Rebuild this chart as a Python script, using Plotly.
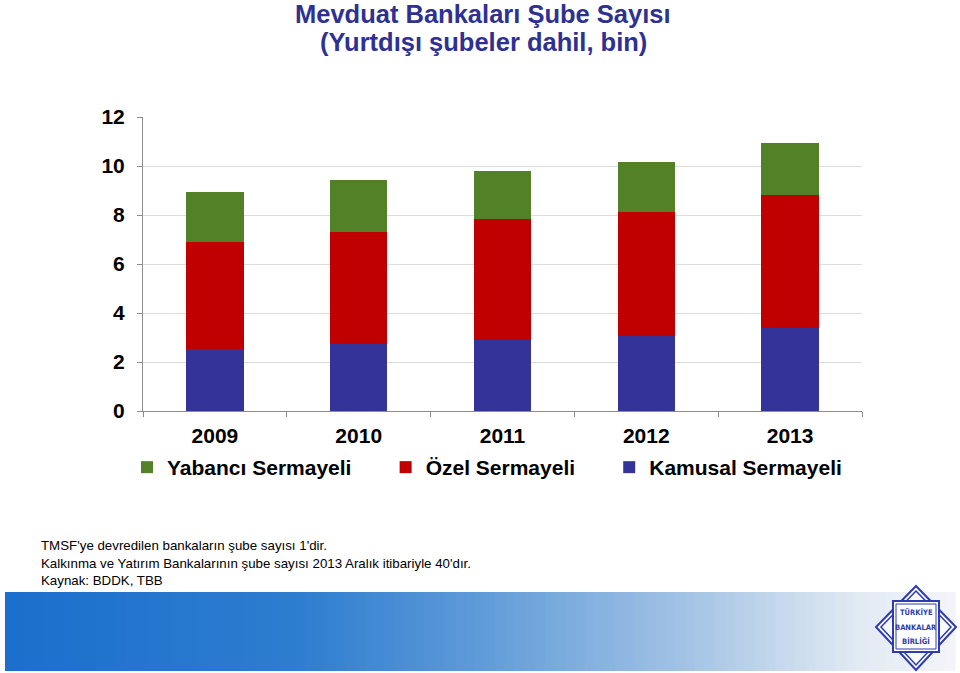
import plotly.graph_objects as go

years = ["2009", "2010", "2011", "2012", "2013"]
kamusal = [2.52, 2.73, 2.90, 3.06, 3.39]
ozel = [4.37, 4.58, 4.94, 5.07, 5.41]
yabanci = [2.06, 2.12, 1.96, 2.05, 2.15]

series_names = ["Kamusal Sermayeli", "Özel Sermayeli", "Yabancı Sermayeli"]
legend_pad = ["", "\u00a0" * 5, "\u00a0" * 5]
series_colors = ["#333399", "#C00000", "#538128"]

title_lines = ["Mevduat Bankaları Şube Sayısı", "(Yurtdışı şubeler dahil, bin)"]
notes = [
    "TMSF'ye devredilen bankaların şube sayısı 1'dir.",
    "Kalkınma ve Yatırım Bankalarının şube sayısı 2013 Aralık itibariyle 40'dır.",
    "Kaynak: BDDK, TBB",
]

W, H = 960, 673
L, R, T, B = 143, 862, 117, 411


def px(x):
    return (x - L) / (R - L)


def py(y):
    return (B - y) / (B - T)


FONT = "Liberation Sans, Arial, sans-serif"

fig = go.Figure()
for name, pad, vals, col in zip(series_names, legend_pad, [kamusal, ozel, yabanci], series_colors):
    fig.add_trace(go.Bar(x=years, y=vals, name=name + pad, marker=dict(color=col, line=dict(width=0))))

shapes = []
stops = [(5, (27, 111, 204)), (300, (45, 125, 208)), (480, (95, 155, 216)),
         (700, (168, 198, 230)), (860, (226, 234, 243)), (955, (243, 245, 249))]


def col_at(x):
    for (x1, c1), (x2, c2) in zip(stops[:-1], stops[1:]):
        if x1 <= x <= x2:
            t = (x - x1) / (x2 - x1)
            return tuple(int(round(a + (b - a) * t)) for a, b in zip(c1, c2))
    return stops[-1][1]


n = 95
for i in range(n):
    x0 = 5 + (955 - 5) * i / n
    x1 = 5 + (955 - 5) * (i + 1) / n + 0.6
    c = col_at((x0 + x1) / 2)
    shapes.append(dict(type="rect", xref="paper", yref="paper", x0=px(x0), x1=px(x1),
                       y0=py(671), y1=py(592), line=dict(width=0),
                       fillcolor="rgb(%d,%d,%d)" % c, layer="below"))

# logo
lc = "#2E3BB0"
cx, cy = 916, 627


def path(points):
    return "M " + " L ".join("%f,%f" % (px(a), py(b)) for a, b in points) + " Z"


shapes.append(dict(type="path", xref="paper", yref="paper",
                   path=path([(cx, 586), (956, cy), (cx, 670), (876, cy)]),
                   line=dict(color=lc, width=2), fillcolor="rgba(255,255,255,0.6)"))
shapes.append(dict(type="path", xref="paper", yref="paper",
                   path=path([(cx, 591), (951, cy), (cx, 665), (881, cy)]),
                   line=dict(color=lc, width=1.5), fillcolor="rgba(0,0,0,0)"))
shapes.append(dict(type="rect", xref="paper", yref="paper",
                   x0=px(893), x1=px(939), y0=py(652), y1=py(601),
                   line=dict(color=lc, width=2), fillcolor="white"))
shapes.append(dict(type="rect", xref="paper", yref="paper",
                   x0=px(896), x1=px(936), y0=py(649), y1=py(604),
                   line=dict(color=lc, width=1), fillcolor="white"))

annotations = []
for i, t in enumerate(title_lines):
    annotations.append(dict(text="<b>%s</b>" % t, xref="paper", yref="paper", x=px(483), y=py([14, 42][i]),
                            xanchor="center", yanchor="middle", showarrow=False, borderpad=0,
                            font=dict(family=FONT, size=25.5, color="#2E3192")))
for i, t in enumerate(notes):
    annotations.append(dict(text=t, xref="paper", yref="paper", x=px(39), y=py([545, 563, 580][i]),
                            xanchor="left", yanchor="middle", showarrow=False,
                            font=dict(family=FONT, size=13.3, color="black")))
for i, t in enumerate(["TÜRKİYE", "BANKALAR", "BİRLİĞİ"]):
    annotations.append(dict(text="<b>%s</b>" % t, xref="paper", yref="paper", x=px(916), y=py([612, 627, 641][i]),
                            xanchor="center", yanchor="middle", showarrow=False,
                            font=dict(family="DejaVu Sans Condensed, sans-serif", size=7.5, color=lc)))

fig.update_layout(
    width=W, height=H,
    margin=dict(l=L, r=W - R, t=T, b=H - B),
    paper_bgcolor="white", plot_bgcolor="white",
    barmode="stack", bargap=0.6,
    font=dict(family=FONT, color="black"),
    xaxis=dict(showline=True, linecolor="#8C8C8C", linewidth=1, ticks="outside", ticklen=5,
               tickcolor="#8C8C8C", tickson="boundaries", ticklabelstandoff=6,
               tickfont=dict(family=FONT, size=21, color="black", weight="bold")),
    yaxis=dict(range=[0, 12], dtick=2, showline=True, linecolor="#8C8C8C", linewidth=1,
               ticks="outside", ticklen=5, tickcolor="#8C8C8C", gridcolor="#DCDCDC",
               zeroline=False, ticklabelstandoff=8,
               tickfont=dict(family=FONT, size=21, color="black", weight="bold")),
    legend=dict(orientation="h", x=px(127), xanchor="left", y=py(447), yanchor="top",
                traceorder="reversed", font=dict(family=FONT, size=21, color="black", weight="bold"),
                itemwidth=30, bgcolor="rgba(0,0,0,0)"),
    shapes=shapes,
    annotations=annotations,
)

fig.write_html("out.html")
